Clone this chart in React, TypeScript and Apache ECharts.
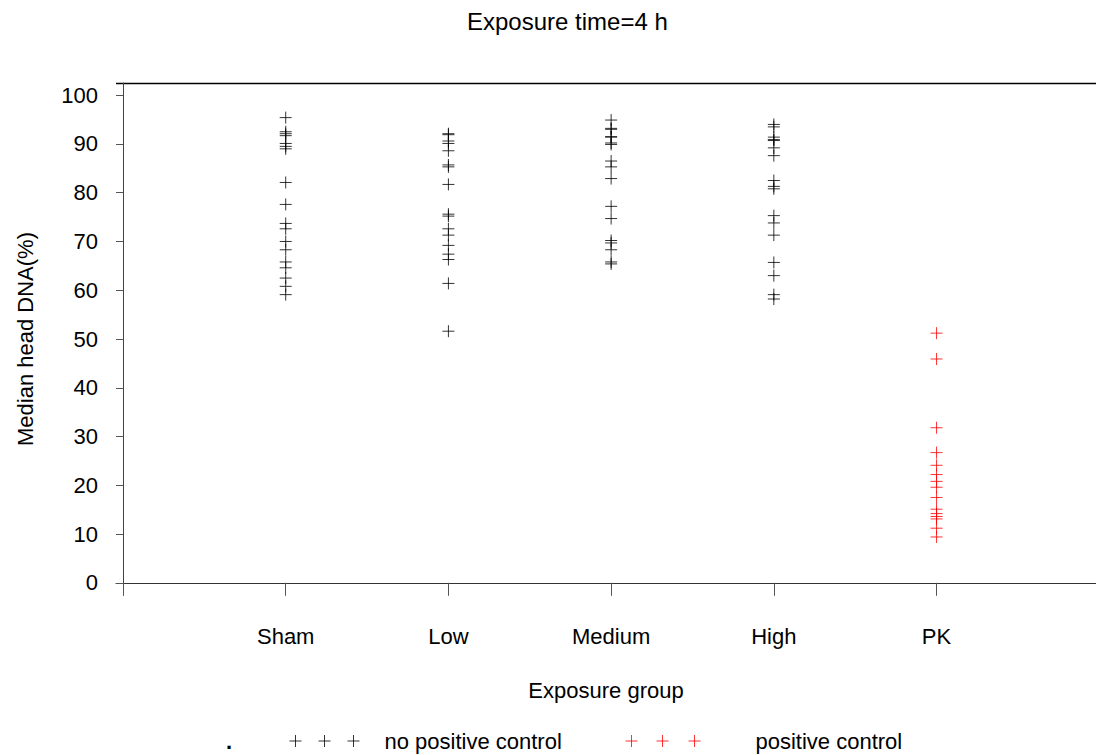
import React, { useEffect, useRef } from "react";
import * as echarts from "echarts";

const categories = ["", "Sham", "Low", "Medium", "High", "PK"];
const shamValues = [95.4, 92.5, 92.1, 91.7, 90.1, 89.5, 89.0, 82.1, 77.6, 73.7, 72.6, 70.0, 68.3, 65.8, 64.6, 62.5, 60.8, 59.1];
const lowValues = [92.1, 91.9, 90.6, 90.1, 88.6, 85.7, 85.3, 81.7, 75.6, 75.2, 72.6, 71.3, 69.2, 67.4, 66.3, 61.4, 51.6];
const mediumValues = [94.9, 93.2, 93.0, 91.5, 91.4, 90.2, 89.9, 86.5, 85.3, 82.9, 77.2, 74.7, 70.2, 69.7, 68.3, 65.8, 65.4];
const highValues = [94.0, 93.5, 91.4, 90.9, 90.7, 89.2, 87.6, 82.5, 81.3, 80.8, 75.3, 73.8, 71.3, 65.7, 63.0, 59.1, 58.2];
const pkValues = [51.2, 45.9, 31.8, 26.7, 24.1, 22.2, 20.8, 19.6, 17.5, 15.1, 14.2, 13.6, 13.1, 11.2, 9.4];
const yTicks = [0, 10, 20, 30, 40, 50, 60, 70, 80, 90, 100];
const xTicks = [0, 1, 2, 3, 4, 5];
const xLabelTicks = [1, 2, 3, 4, 5];

const FONT = "Liberation Sans, Arial, sans-serif";
const CROSS = "path://M0,6H12M6,0V12";
const CROSS3_BLACK = "path://M0,6H12M6,0V12M29,6H41M35,0V12M58,6H70M64,0V12";
const CROSS3_RED = "path://M0,6H12M6,0V12M31,6H43M37,0V12M63,6H75M69,0V12";

export default function App() {
  const ref = useRef<HTMLDivElement>(null);
  useEffect(() => {
    if (!ref.current) return;
    const chart = echarts.init(ref.current, undefined, { renderer: "svg" });
    const blackData: number[][] = [];
    [shamValues, lowValues, mediumValues, highValues].forEach((arr, i) => {
      arr.forEach((v) => blackData.push([i + 1, v]));
    });
    const redData = pkValues.map((v) => [5, v]);
    chart.setOption({
      animation: false,
      backgroundColor: "#fff",
      title: {
        text: "Exposure time=4 h",
        left: 462,
        top: 4,
        textStyle: { fontFamily: FONT, fontSize: 24, fontWeight: "normal", color: "#000" },
      },
      grid: { left: 116, top: 83, right: 0, bottom: 160, containLabel: false },
      legend: [
        {
          left: 284,
          top: 725,
          itemWidth: 70,
          itemHeight: 12,
          textStyle: { fontFamily: FONT, fontSize: 22, color: "#000", padding: [0, 0, 0, 20] },
          data: [
            { name: "no positive control", icon: CROSS3_BLACK, itemStyle: { color: "#000", borderColor: "#000", borderWidth: 1 } },
          ],
        },
        {
          left: 620,
          top: 725,
          itemWidth: 75,
          itemHeight: 12,
          textStyle: { fontFamily: FONT, fontSize: 22, color: "#000", padding: [0, 0, 0, 50] },
          data: [
            { name: "positive control", icon: CROSS3_RED, itemStyle: { color: "#ff0000", borderColor: "#ff0000", borderWidth: 1 } },
          ],
        },
      ],
      xAxis: {
        type: "value",
        min: -0.043,
        max: 5.98,
        name: "Exposure group",
        nameLocation: "middle",
        nameGap: 84,
        nameTextStyle: { fontFamily: FONT, fontSize: 22, color: "#000" },
        axisLine: { show: true, lineStyle: { color: "#333", width: 1 } },
        axisTick: { show: true, length: 13, lineStyle: { color: "#555" }, customValues: xTicks },
        axisLabel: {
          fontFamily: FONT,
          fontSize: 22,
          color: "#000",
          margin: 30,
          customValues: xLabelTicks,
          formatter: (v: number) => categories[Math.round(v)] ?? "",
        },
        splitLine: { show: false },
      },
      yAxis: {
        type: "value",
        min: -2.5,
        max: 102.5,
        name: "Median head DNA(%)",
        nameLocation: "middle",
        nameGap: 80,
        nameTextStyle: { fontFamily: FONT, fontSize: 22, color: "#000" },
        axisLine: { show: true, lineStyle: { color: "#444", width: 1 } },
        axisTick: { show: true, length: 7, lineStyle: { color: "#555" }, customValues: yTicks },
        axisLabel: { fontFamily: FONT, fontSize: 22, color: "#000", margin: 18, customValues: yTicks },
        splitLine: { show: false },
      },
      graphic: [
        { type: "line", shape: { x1: 116, y1: 83.5, x2: 1096, y2: 83.5 }, style: { stroke: "#000", lineWidth: 1.5 } },
        { type: "text", x: 226, y: 730, style: { text: ".", font: `bold 22px ${FONT}`, fill: "#000" } },
      ],
      series: [
        {
          name: "no positive control",
          type: "scatter",
          symbol: CROSS,
          symbolSize: 12,
          itemStyle: { color: "#000", borderColor: "#000", borderWidth: 1 },
          data: blackData,
        },
        {
          name: "positive control",
          type: "scatter",
          symbol: CROSS,
          symbolSize: 12,
          itemStyle: { color: "#ff0000", borderColor: "#ff0000", borderWidth: 1 },
          data: redData,
        },
      ],
    });
    return () => chart.dispose();
  }, []);
  return <div ref={ref} style={{ position: "absolute", left: 0, top: 0, width: 1096, height: 755 }} />;
}
